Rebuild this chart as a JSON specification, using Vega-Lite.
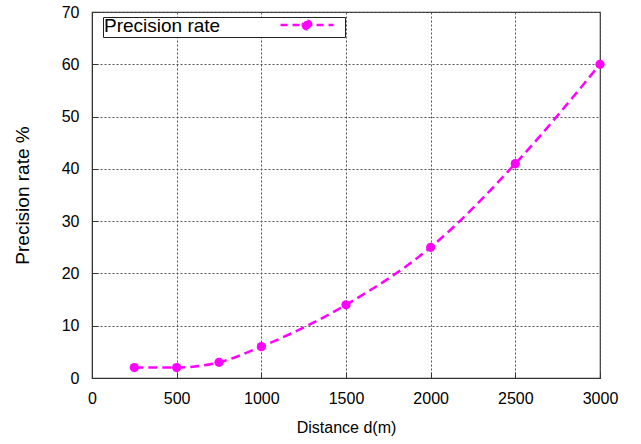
{
  "$schema": "https://vega.github.io/schema/vega-lite/v6.json",
  "width": 508,
  "height": 366,
  "autosize": "none",
  "padding": {"left": 92, "top": 12, "right": 41, "bottom": 66},
  "background": "white",
  "config": {
    "font": "Liberation Sans",
    "view": {"stroke": "#333333", "strokeWidth": 1.2},
    "axis": {
      "labelFont": "Liberation Sans",
      "titleFont": "Liberation Sans",
      "labelFontSize": 16,
      "labelColor": "#000000",
      "titleColor": "#000000",
      "titleFontWeight": "normal",
      "domainColor": "#333333",
      "tickColor": "#333333",
      "gridColor": "#555555",
      "gridDash": [2, 2],
      "gridOpacity": 1,
      "gridWidth": 1
    }
  },
  "data": {
    "values": [
      {"d": 250, "p": 2, "s": "Precision rate"},
      {"d": 500, "p": 2, "s": "Precision rate"},
      {"d": 750, "p": 3, "s": "Precision rate"},
      {"d": 1000, "p": 6, "s": "Precision rate"},
      {"d": 1500, "p": 14, "s": "Precision rate"},
      {"d": 2000, "p": 25, "s": "Precision rate"},
      {"d": 2500, "p": 41, "s": "Precision rate"},
      {"d": 3000, "p": 60, "s": "Precision rate"}
    ]
  },
  "encoding": {
    "x": {
      "field": "d",
      "type": "quantitative",
      "scale": {"domain": [0, 3000], "nice": false, "zero": false},
      "axis": {
        "values": [0, 500, 1000, 1500, 2000, 2500, 3000],
        "format": "d",
        "title": "Distance d(m)",
        "titleFontSize": 16,
        "titlePadding": 13,
        "tickSize": -6,
        "labelPadding": 18,
        "labelFlush": false
      }
    },
    "y": {
      "field": "p",
      "type": "quantitative",
      "scale": {"domain": [0, 70], "nice": false},
      "axis": {
        "values": [0, 10, 20, 30, 40, 50, 60, 70],
        "format": "d",
        "title": "Precision rate %",
        "titleFontSize": 19,
        "titlePadding": 29,
        "tickSize": -6,
        "labelPadding": 19,
        "labelFlush": false
      }
    }
  },
  "layer": [
    {
      "mark": {
        "type": "line",
        "interpolate": "monotone",
        "color": "#ff00ff",
        "strokeWidth": 2.5,
        "strokeDash": [9, 5]
      }
    },
    {
      "mark": {"type": "point", "filled": true, "size": 85, "opacity": 1},
      "encoding": {
        "color": {
          "field": "s",
          "type": "nominal",
          "scale": {"range": ["#ff00ff"]},
          "legend": {
            "orient": "none",
            "legendX": 11,
            "legendY": 5,
            "title": "Precision rate",
            "titleOrient": "left",
            "titleFont": "Liberation Sans",
            "titleFontSize": 19,
            "titleFontWeight": "normal",
            "titleColor": "#000000",
            "titlePadding": 79,
            "titleBaseline": "middle",
            "labelExpr": "''",
            "labelOffset": 30,
            "padding": 1,
            "strokeColor": "#222222",
            "fillColor": "white",
            "symbolType": "M-5,0L5,0M-0.8,0A0.8,0.8 0 1,0 0.8,0A0.8,0.8 0 1,0 -0.8,0Z",
            "symbolSize": 112,
            "symbolStrokeWidth": 2.5,
            "symbolDash": [7, 5],
            "symbolFillColor": "#ff00ff",
            "symbolStrokeColor": "#ff00ff",
            "encode": {
              "symbols": {
                "update": {
                  "fill": {"value": "#ff00ff"},
                  "stroke": {"value": "#ff00ff"},
                  "strokeWidth": {"value": 2.5},
                  "strokeDash": {"value": [7, 5]},
                  "opacity": {"value": 1}
                }
              }
            }
          }
        }
      }
    }
  ]
}
